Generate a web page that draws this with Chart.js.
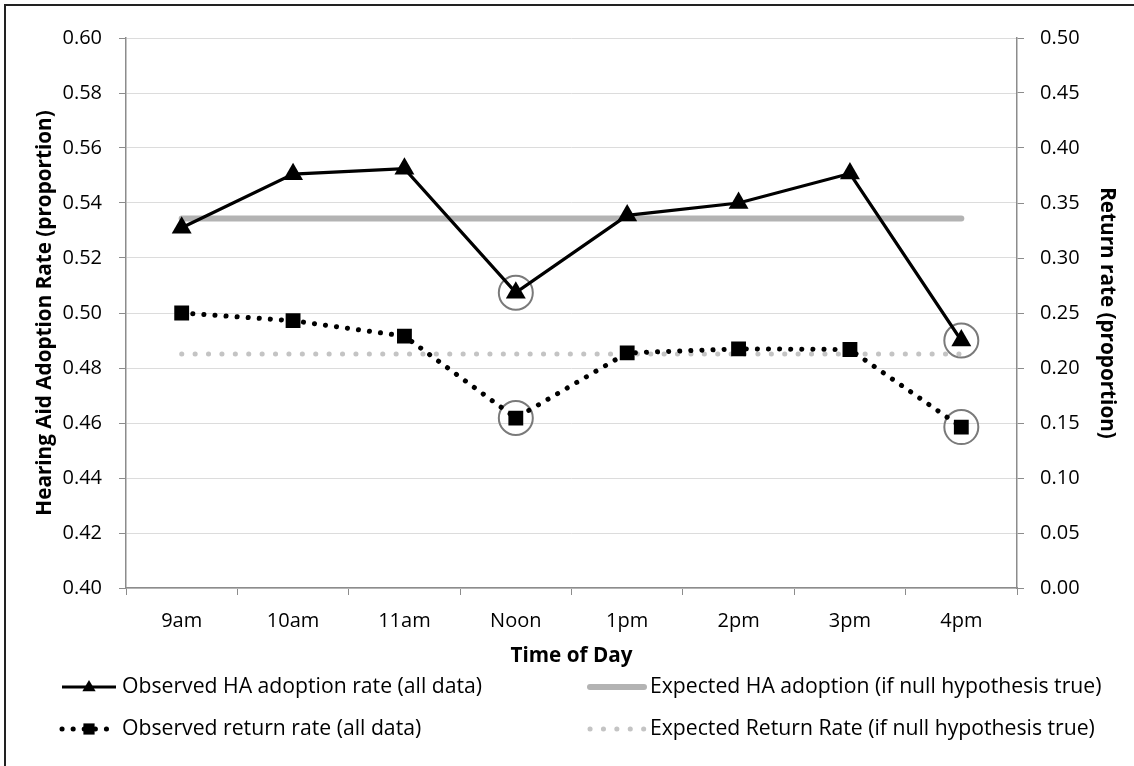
<!DOCTYPE html>
<html>
<head>
<meta charset="utf-8">
<script src="https://cdn.jsdelivr.net/npm/chart.js@4.4.0/dist/chart.umd.min.js"></script>
<style>
  html, body { margin: 0; padding: 0; background: #fff; overflow: hidden; }
  #frame { position: absolute; left: 4px; top: 4px; width: 1140px; height: 770px; border: 2px solid #222; box-sizing: border-box; }
  #chart { position: absolute; left: 0; top: 0; }
</style>
</head>
<body>
<div id="frame"></div>
<canvas id="chart" width="1134" height="766"></canvas>
<script>
// Datos
const timeLabels = ['9am', '10am', '11am', 'Noon', '1pm', '2pm', '3pm', '4pm'];
const observedAdoption = [0.531, 0.5505, 0.5525, 0.5074, 0.5355, 0.540, 0.5507, 0.490];
const expectedAdoption = [0.5344, 0.5344, 0.5344, 0.5344, 0.5344, 0.5344, 0.5344, 0.5344];
const observedReturn = [0.250, 0.243, 0.229, 0.1545, 0.2137, 0.2174, 0.2168, 0.1463];
const expectedReturn = [0.2128, 0.2128, 0.2128, 0.2128, 0.2128, 0.2128, 0.2128, 0.2128];
// puntos marcados con círculo
const circledAdoption = [null, null, null, 0.5074, null, null, null, 0.490];
const circledReturn = [null, null, null, 0.1545, null, null, null, 0.1463];

const FONT = "'Open Sans', 'Noto Sans', sans-serif";

// Dibujar un marcador simple (triángulo o cuadrado)
function drawMarker(ctx, style, x, y, r, color) {
    ctx.save();
    ctx.fillStyle = color;
    ctx.beginPath();
    if (style === 'triangle') {
        ctx.moveTo(x, y - r);
        ctx.lineTo(x + r * 0.95, y + r * 0.6);
        ctx.lineTo(x - r * 0.95, y + r * 0.6);
        ctx.closePath();
    } else if (style === 'rect') {
        ctx.rect(x - r * 0.8, y - r * 0.8, r * 1.6, r * 1.6);
    }
    ctx.fill();
    ctx.restore();
}

// Leyenda dibujada a mano en dos columnas
const legendLayout = [
    { ds: 0, x: 62, y: 687, marker: 'triangle' },
    { ds: 2, x: 590, y: 687 },
    { ds: 1, x: 62, y: 729, marker: 'rect' },
    { ds: 3, x: 590, y: 729 }
];

const customLegend = {
    id: 'customLegend',
    afterDraw(chart) {
        const ctx = chart.ctx;
        legendLayout.forEach(item => {
            const ds = chart.data.datasets[item.ds];
            const x1 = item.x, x2 = item.x + 54;
            ctx.save();
            ctx.strokeStyle = ds.borderColor;
            ctx.lineWidth = ds.borderWidth;
            ctx.lineCap = ds.borderCapStyle || 'butt';
            ctx.setLineDash(ds.borderDash || []);
            ctx.beginPath();
            ctx.moveTo(x1, item.y);
            ctx.lineTo(x2, item.y);
            ctx.stroke();
            ctx.restore();
            if (item.marker) {
                drawMarker(ctx, item.marker, (x1 + x2) / 2, item.y, 7, '#000');
            }
            ctx.save();
            ctx.fillStyle = '#000';
            ctx.font = '21.2px ' + FONT;
            ctx.textBaseline = 'middle';
            ctx.fillText(ds.label, x2 + 6, item.y);
            ctx.restore();
        });
    }
};

const ctx = document.getElementById('chart');
new Chart(ctx, {
    type: 'line',
    data: {
        labels: timeLabels,
        datasets: [
            {
                label: 'Observed HA adoption rate (all data)',
                data: observedAdoption,
                yAxisID: 'y',
                borderColor: '#000',
                backgroundColor: '#000',
                borderWidth: 3.2,
                pointStyle: 'triangle',
                pointRadius: 11.5,
                pointBorderWidth: 0,
                tension: 0
            },
            {
                label: 'Observed return rate (all data)',
                data: observedReturn,
                yAxisID: 'y2',
                borderColor: '#000',
                backgroundColor: '#000',
                borderWidth: 5,
                borderDash: [0.1, 11],
                borderCapStyle: 'round',
                pointStyle: 'rect',
                pointRadius: 10.5,
                pointBorderWidth: 0,
                tension: 0
            },
            {
                label: 'Expected HA adoption (if null hypothesis true)',
                data: expectedAdoption,
                yAxisID: 'y',
                borderColor: '#b3b3b3',
                borderWidth: 6,
                borderCapStyle: 'round',
                pointRadius: 0
            },
            {
                label: 'Expected Return Rate (if null hypothesis true)',
                data: expectedReturn,
                yAxisID: 'y2',
                borderColor: '#c4c4c4',
                borderWidth: 5,
                borderDash: [0.1, 13.3],
                borderCapStyle: 'round',
                pointRadius: 0
            },
            {
                label: 'circledAdoption',
                data: circledAdoption,
                yAxisID: 'y',
                showLine: false,
                pointStyle: 'circle',
                pointRadius: 17,
                pointBorderWidth: 2,
                pointBorderColor: '#7a7a7a',
                pointBackgroundColor: 'rgba(0,0,0,0)'
            },
            {
                label: 'circledReturn',
                data: circledReturn,
                yAxisID: 'y2',
                showLine: false,
                pointStyle: 'circle',
                pointRadius: 17,
                pointBorderWidth: 2,
                pointBorderColor: '#7a7a7a',
                pointBackgroundColor: 'rgba(0,0,0,0)'
            }
        ]
    },
    options: {
        responsive: false,
        animation: false,
        events: [],
        layout: {
            padding: { left: 10, right: 10, top: 38, bottom: 78 }
        },
        plugins: {
            legend: { display: false },
            tooltip: { enabled: false }
        },
        scales: {
            x: {
                offset: true,
                grid: {
                    offset: true,
                    drawOnChartArea: false,
                    drawTicks: true,
                    tickLength: 7,
                    color: '#8c8c8c'
                },
                border: { color: '#8c8c8c', width: 1.5 },
                ticks: {
                    color: '#000',
                    padding: 14,
                    font: { family: FONT, size: 20 }
                },
                title: {
                    display: true,
                    text: 'Time of Day',
                    color: '#000',
                    padding: { top: 0, bottom: 19 },
                    font: { family: FONT, size: 20.7, weight: 'bold' }
                },
                afterFit(scale) { scale.height = 100; }
            },
            y: {
                position: 'left',
                min: 0.4,
                max: 0.6,
                grid: {
                    color: '#dcdcdc',
                    lineWidth: 1,
                    tickLength: 7,
                    tickColor: '#8c8c8c'
                },
                border: { color: '#8c8c8c', width: 1.5 },
                ticks: {
                    stepSize: 0.02,
                    color: '#000',
                    padding: 17,
                    font: { family: FONT, size: 20 },
                    callback: v => v.toFixed(2)
                },
                title: {
                    display: true,
                    text: 'Hearing Aid Adoption Rate (proportion)',
                    color: '#000',
                    padding: { top: 23, bottom: 0 },
                    font: { family: FONT, size: 20.7, weight: 'bold' }
                },
                afterFit(scale) { scale.width = 116; }
            },
            y2: {
                position: 'right',
                min: 0,
                max: 0.5,
                grid: {
                    drawOnChartArea: false,
                    tickLength: 7,
                    color: '#8c8c8c'
                },
                border: { color: '#8c8c8c', width: 1.5 },
                ticks: {
                    stepSize: 0.05,
                    color: '#000',
                    padding: 16,
                    font: { family: FONT, size: 20 },
                    callback: v => v.toFixed(2)
                },
                title: {
                    display: true,
                    text: 'Return rate (proportion)',
                    color: '#000',
                    padding: { top: 5, bottom: 0 },
                    font: { family: FONT, size: 20.7, weight: 'bold' }
                },
                afterFit(scale) { scale.width = 107; }
            }
        }
    },
    plugins: [customLegend]
});
</script>
</body>
</html>
